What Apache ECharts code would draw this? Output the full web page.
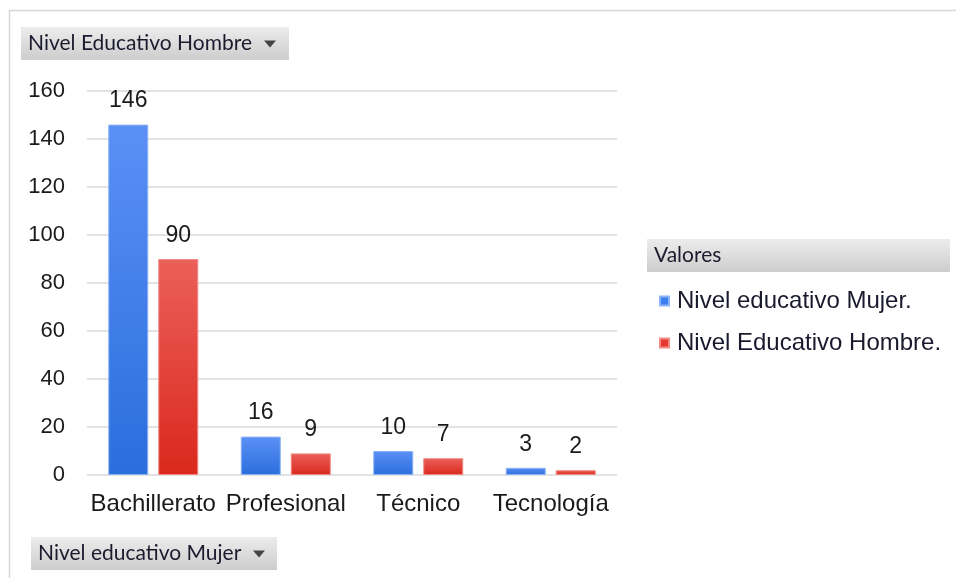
<!DOCTYPE html>
<html lang="es">
<head>
    <meta charset="UTF-8">
    <title>Nivel educativo</title>
    <script src="https://cdn.jsdelivr.net/npm/echarts@6/dist/echarts.min.js"></script>
    <style>
        *{
            margin: 0;
            padding: 0;
        }
        body{
            background: #fff;
        }
        #box{
            width: 956px;
            height: 578px;
        }
    </style>
</head>
<body>
<div id="box"></div>
<script type="text/javascript">
    // datos
    let categorias = ['Bachillerato', 'Profesional', 'Técnico', 'Tecnología'];
    let mujer = [146, 16, 10, 3];
    let hombre = [90, 9, 7, 2];
    let nombres = ['Nivel educativo Mujer.', 'Nivel Educativo Hombre.'];
    let ejeY = {min: 0, max: 160, interval: 20};

    let myChart = echarts.init(document.getElementById('box'));

    function degradado(arriba, abajo) {
        return new echarts.graphic.LinearGradient(0, 0, 0, 1, [
            {offset: 0, color: arriba},
            {offset: 1, color: abajo}
        ]);
    }

    // botones grises tipo tabla dinamica
    function boton(x, y, w, h, texto, flecha) {
        let hijos = [{
            type: 'rect',
            shape: {x: x, y: y, width: w, height: h},
            style: {
                fill: new echarts.graphic.LinearGradient(0, 0, 0, 1, [
                    {offset: 0, color: '#ececec'},
                    {offset: 1, color: '#cdcdcd'}
                ])
            }
        }, {
            type: 'text',
            style: {
                x: x + 7, y: y + h / 2,
                text: texto,
                fill: '#1b1b2e',
                font: '21px Lato',
                verticalAlign: 'middle'
            }
        }];
        if (flecha) {
            hijos.push({
                type: 'polygon',
                shape: {points: [[flecha - 6, y + h / 2 - 3], [flecha + 6, y + h / 2 - 3], [flecha, y + h / 2 + 4]]},
                style: {fill: '#444'}
            });
        }
        return {type: 'group', silent: true, children: hijos};
    }

    let etiqueta = {
        show: true,
        position: 'top',
        distance: 12,
        color: '#1a1a1a',
        fontSize: 23,
        fontFamily: 'Liberation Sans'
    };

    let option = {
        animation: false,
        textStyle: {fontFamily: 'Liberation Sans'},
        grid: {
            left: 87,
            right: 339,
            top: 91,
            bottom: 103
        },
        legend: {
            orient: 'vertical',
            left: 654,
            top: 284,
            itemWidth: 9,
            itemHeight: 9,
            itemGap: 18,
            icon: 'rect',
            textStyle: {fontSize: 24, color: '#1a1a2e', fontFamily: 'Liberation Sans', padding: [0, 0, 0, 3]},
            data: [
                {name: nombres[0], itemStyle: {color: '#3a80f0'}},
                {name: nombres[1], itemStyle: {color: '#e5382e'}}
            ]
        },
        xAxis: {
            type: 'category',
            data: categorias,
            axisLine: {show: false},
            axisTick: {show: false},
            axisLabel: {
                interval: 0,
                margin: 17,
                fontSize: 24,
                color: '#1a1a1a'
            }
        },
        yAxis: {
            type: 'value',
            min: ejeY.min,
            max: ejeY.max,
            interval: ejeY.interval,
            axisLabel: {
                margin: 22,
                fontSize: 22,
                color: '#1a1a1a'
            },
            splitLine: {
                lineStyle: {color: '#d9d9d9', width: 1.5}
            }
        },
        series: [{
            name: nombres[0],
            type: 'bar',
            data: mujer,
            barWidth: 40,
            barGap: '25%',
            label: etiqueta,
            itemStyle: {
                color: degradado('#5b90f6', '#2a6edc'),
                borderColor: '#8db3f7',
                borderWidth: 1
            }
        }, {
            name: nombres[1],
            type: 'bar',
            data: hombre,
            barWidth: 40,
            label: etiqueta,
            itemStyle: {
                color: degradado('#eb605a', '#da281d'),
                borderColor: '#f08a84',
                borderWidth: 1
            }
        }],
        graphic: [
            // marco
            {type: 'line', silent: true, shape: {x1: 9, y1: 10.5, x2: 956, y2: 10.5}, style: {stroke: '#d6d6d6', lineWidth: 1.5}},
            {type: 'line', silent: true, shape: {x1: 9.5, y1: 10, x2: 9.5, y2: 578}, style: {stroke: '#d6d6d6', lineWidth: 1.5}},
            boton(21, 27, 268, 33, 'Nivel Educativo Hombre', 270),
            boton(31, 537, 246, 33, 'Nivel educativo Mujer', 259),
            boton(647, 239, 303, 33, 'Valores', 0)
        ]
    };
    myChart.setOption(option);
</script>
</body>
</html>
